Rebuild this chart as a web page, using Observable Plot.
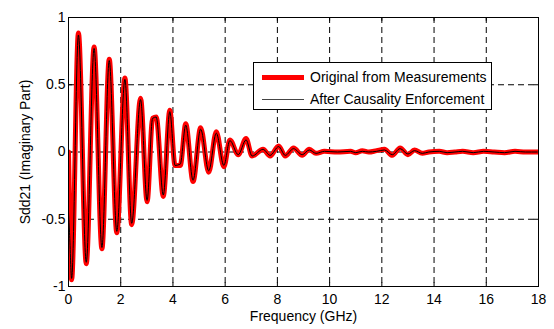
<!DOCTYPE html>
<html>
<head>
<meta charset="utf-8">
<script src="https://cdn.jsdelivr.net/npm/d3@7"></script>
<script src="https://cdn.jsdelivr.net/npm/@observablehq/plot@0.6"></script>
<style>
  body { margin: 0; background: #fff; }
  #wrap { position: relative; width: 554px; height: 329px; font-family: "Liberation Sans", Arial, sans-serif; }
  #legend { position: absolute; left: 253px; top: 62px; width: 239px; height: 48px; border: 1px solid #000; background: #fff; box-sizing: border-box; font-size: 14px; color: #000; }
  .row { position: absolute; left: 0; height: 16px; display: flex; align-items: center; }
  .sw { display: inline-block; margin-left: 8px; width: 42px; }
  .lbl { margin-left: 6px; white-space: nowrap; }
</style>
</head>
<body>
<div id="wrap"></div>
<script>
// Frequency (GHz) at curve extremes
const freq = [0.00, 0.04, 0.12, 0.38, 0.68, 0.98, 1.28, 1.56, 1.85, 2.16, 2.42, 2.76, 3.01, 3.22, 3.36, 3.63, 3.88, 4.08, 4.28, 4.49, 4.77, 5.06, 5.37, 5.66, 5.95, 6.18, 6.50, 6.80, 7.03, 7.45, 7.72, 8.05, 8.30, 8.62, 8.95, 9.22, 9.48, 9.80, 10.30, 10.80, 11.00, 11.25, 11.50, 11.80, 12.10, 12.40, 12.70, 13.00, 13.25, 13.55, 13.80, 14.20, 14.50, 14.80, 15.10, 15.50, 15.90, 16.30, 16.70, 17.10, 17.50, 17.95];
// Original from measurements (imaginary part of Sdd21)
const measured = [0.00, -0.40, -0.95, 0.885, -0.83, 0.78, -0.72, 0.69, -0.60, 0.55, -0.54, 0.40, -0.37, 0.25, 0.26, -0.33, 0.31, -0.10, -0.10, 0.21, -0.22, 0.18, -0.15, 0.15, -0.11, 0.09, -0.02, 0.10, -0.03, 0.02, -0.03, 0.045, -0.03, 0.03, -0.025, 0.02, -0.01, 0.005, 0.00, 0.005, -0.005, 0.01, 0.00, 0.01, 0.02, -0.025, 0.03, -0.02, 0.015, -0.01, 0.00, 0.005, -0.005, 0.00, 0.005, -0.005, 0.005, 0.00, -0.005, 0.005, 0.00, 0.00];
// After causality enforcement
const causal = [-0.45, -0.60, -0.94, 0.87, -0.82, 0.77, -0.71, 0.68, -0.59, 0.54, -0.53, 0.39, -0.36, 0.25, 0.26, -0.32, 0.30, -0.10, -0.09, 0.20, -0.21, 0.17, -0.14, 0.14, -0.10, 0.085, -0.02, 0.09, -0.03, 0.02, -0.025, 0.04, -0.025, 0.025, -0.02, 0.015, -0.01, 0.005, 0.00, 0.005, -0.005, 0.005, 0.00, 0.005, 0.015, -0.02, 0.025, -0.015, 0.01, -0.01, 0.00, 0.005, -0.005, 0.00, 0.005, -0.005, 0.005, 0.00, -0.005, 0.005, 0.00, 0.00];
const xTicks = [0, 2, 4, 6, 8, 10, 12, 14, 16, 18];
const yTicks = [-1, -0.5, 0, 0.5, 1];
const seriesNames = ["Original from Measurements", "After Causality Enforcement"];

const measData = freq.map((f, i) => ({f, v: measured[i]}));
const causData = freq.map((f, i) => ({f, v: causal[i]}));

const tickLen = 0.028; // in y units (~4px)
const tickLenX = 0.16; // in x units (~4px)

const chart = Plot.plot({
  width: 554,
  height: 329,
  marginLeft: 68,
  marginRight: 16,
  marginTop: 17,
  marginBottom: 43,
  style: {fontFamily: "Liberation Sans, Arial, sans-serif", fontSize: "14px", color: "#000", background: "#fff"},
  x: {domain: [0, 18], ticks: xTicks, tickFormat: d => String(d), label: null},
  y: {domain: [-1, 1], ticks: yTicks, tickFormat: d => String(d), label: null},
  marks: [
    Plot.ruleX(xTicks.slice(1, -1), {stroke: "#000", strokeDasharray: "6,4", strokeWidth: 1}),
    Plot.ruleY(yTicks.slice(1, -1), {stroke: "#000", strokeDasharray: "6,4", strokeWidth: 1}),
    Plot.ruleX(xTicks, {y1: -1, y2: -1 + tickLen, stroke: "#000"}),
    Plot.ruleX(xTicks, {y1: 1, y2: 1 - tickLen, stroke: "#000"}),
    Plot.ruleY(yTicks, {x1: 0, x2: tickLenX, stroke: "#000"}),
    Plot.ruleY(yTicks, {x1: 18, x2: 18 - tickLenX, stroke: "#000"}),
    Plot.line(measData, {x: "f", y: "v", stroke: "#ff0000", strokeWidth: 5, curve: "monotone-x", clip: true}),
    Plot.line(causData, {x: "f", y: "v", stroke: "#000", strokeWidth: 1, curve: "monotone-x", clip: true}),
    Plot.frame({stroke: "#000"}),
    Plot.axisX({ticks: xTicks, tickFormat: d => String(d), tickSize: 0, tickPadding: 8, label: null, fontSize: 14}),
    Plot.axisY({ticks: yTicks, tickFormat: d => String(d), tickSize: 0, tickPadding: 3, label: null, fontSize: 14}),
    Plot.text(["Frequency (GHz)"], {frameAnchor: "bottom", dy: 34, fontSize: 14, textAnchor: "middle"}),
    Plot.text(["Sdd21 (Imaginary Part)"], {frameAnchor: "left", dx: -43, rotate: -90, fontSize: 14, textAnchor: "middle"})
  ]
});

const wrap = document.getElementById("wrap");
wrap.appendChild(chart);

const legend = document.createElement("div");
legend.id = "legend";
legend.innerHTML = `
  <div class="row" style="top:6px"><span class="sw" style="border-top:5px solid #ff0000"></span><span class="lbl">${seriesNames[0]}</span></div>
  <div class="row" style="top:28px"><span class="sw" style="border-top:1px solid #444"></span><span class="lbl">${seriesNames[1]}</span></div>`;
wrap.appendChild(legend);
</script>
</body>
</html>
